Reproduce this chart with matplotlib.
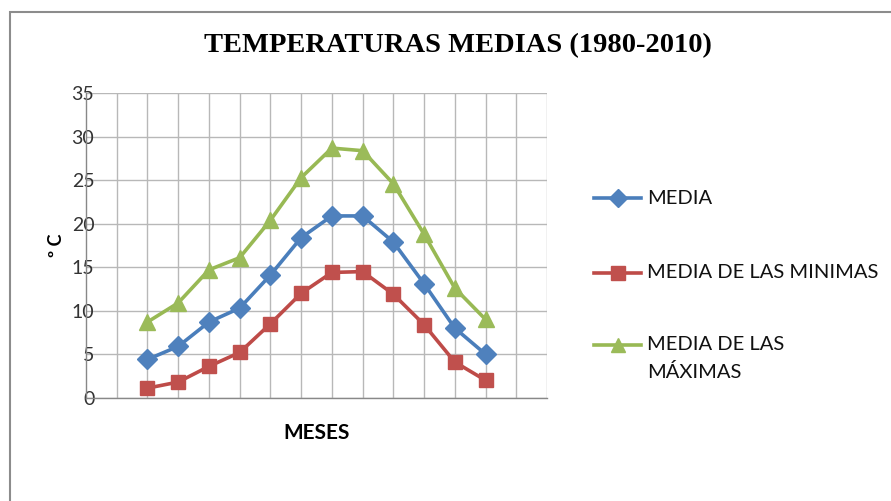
import matplotlib
matplotlib.use("Agg")
import matplotlib.pyplot as plt
from matplotlib.lines import Line2D
from matplotlib.patches import Rectangle

# monthly means 1980-2010
meses = ["ENE", "FEB", "MAR", "ABR", "MAY", "JUN", "JUL", "AGO", "SEP", "OCT", "NOV", "DIC"]
media = [4.4, 5.9, 8.7, 10.3, 14.1, 18.4, 20.9, 20.9, 17.9, 13.1, 8.0, 5.0]
media_minimas = [1.1, 1.8, 3.6, 5.2, 8.5, 12.0, 14.4, 14.5, 11.9, 8.4, 4.1, 2.0]
media_maximas = [8.7, 10.9, 14.7, 16.1, 20.4, 25.3, 28.7, 28.4, 24.6, 18.8, 12.6, 9.0]

labels = ["MEDIA", "MEDIA DE LAS MINIMAS", "MEDIA DE LAS\nMÁXIMAS"]
lines_c = ["#4A7EBB", "#BE4B48", "#98B954"]
marker_c = ["#4F81BD", "#C0504D", "#9BBB59"]
markers = ["D", "s", "^"]

plt.rcParams['font.family'] = ['Lato', 'DejaVu Sans']

fig = plt.figure(figsize=(8.91, 5.01), dpi=100)
ax = fig.add_axes([86 / 891, 103.3 / 501, 461 / 891, 304.4 / 501])

x = list(range(1, len(meses) + 1))
series = [media, media_minimas, media_maximas]
msize = [10.5, 10, 11.5]
for s, lc, mc, m, ms in zip(series, lines_c, marker_c, markers, msize):
    ax.plot(x, s, color=lc, lw=2.6, marker=m, markersize=ms,
            markerfacecolor=mc, markeredgecolor=mc, zorder=3)

ax.set_xlim(-1, 14)
ax.set_ylim(0, 35)
ax.set_xticks(range(0, 15))
ax.set_xticklabels([])
ax.set_yticks(range(0, 36, 5))
ax.tick_params(axis='x', length=0)
ax.tick_params(axis='y', length=0, pad=-6, labelsize=14, labelcolor='#333333')
ax.grid(True, color='#B8B8B8', lw=1)
ax.set_axisbelow(True)
for side in ['top', 'right']:
    ax.spines[side].set_visible(False)
for side in ['left', 'bottom']:
    ax.spines[side].set_color('#888888')
    ax.spines[side].set_linewidth(1)

ax.set_ylabel("º C", fontsize=13, fontweight='bold')
ax.yaxis.set_label_coords(-0.045, 0.5)
fig.text(317 / 891, 1 - 433 / 501, "MESES", fontsize=15, fontweight='bold',
         ha='center', va='center')

fig.text(458 / 891, 1 - 46 / 501, "TEMPERATURAS MEDIAS (1980-2010)",
         family='Liberation Serif', fontsize=20.5, fontweight='bold',
         ha='center', va='center')

# legend
leg_y = [198, 273, 345]
for lab, lc, mc, m, yy in zip(labels, lines_c, marker_c, markers, leg_y):
    yf = 1 - yy / 501
    fig.add_artist(Line2D([594 / 891, 641 / 891], [yf, yf], color=lc, lw=2.6,
                          transform=fig.transFigure))
    fig.add_artist(Line2D([618 / 891], [yf], marker=m, markersize=9.5,
                          color=mc, transform=fig.transFigure))
    if '\n' in lab:
        fig.text(647 / 891, yf - 13.5 / 501, lab, fontsize=14.5, color='#111111',
                 ha='left', va='center', linespacing=1.6)
    else:
        fig.text(647 / 891, yf, lab, fontsize=14.5, color='#111111',
                 ha='left', va='center')

# chart border
fig.add_artist(Rectangle((10 / 891, -0.1), 2, 1 - 12 / 501 + 0.1,
                         transform=fig.transFigure, fill=False,
                         edgecolor='#8C8C8C', lw=1.5))

plt.savefig("out.png", dpi=100)
plt.close()
